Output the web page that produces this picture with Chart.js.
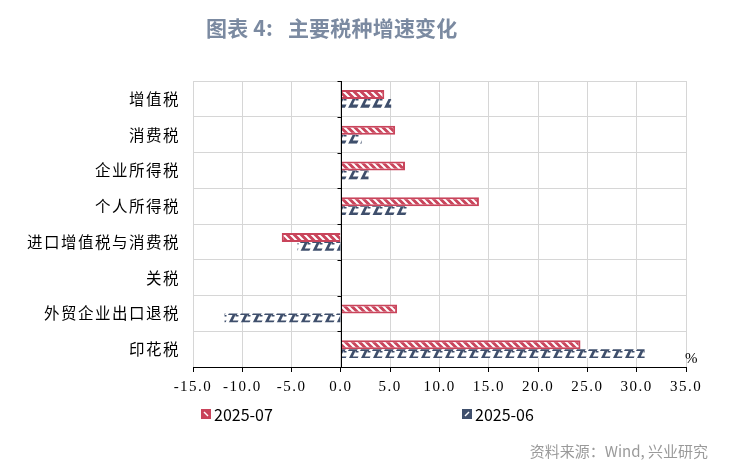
<!DOCTYPE html>
<html>
<head>
<meta charset="utf-8">
<script src="https://cdn.jsdelivr.net/npm/chart.js@4.4.1/dist/chart.umd.min.js"></script>
<style>
  body { margin: 0; background: #fff; }
  #wrap { position: relative; width: 741px; height: 469px; font-family: "Noto Sans CJK SC", "Noto Sans", sans-serif; }
  #chart { position: absolute; left: 0; top: 0; }
  .title { position: absolute; left: 206px; top: 12px; font-size: 21px; font-weight: bold; color: #7b8aa1; white-space: nowrap; letter-spacing: 0.2px; }
  .source { position: absolute; right: 33px; top: 440px; font-size: 15px; color: #9a9a9a; white-space: nowrap; }
  .pct { position: absolute; left: 685px; top: 350px; font-family: "Liberation Serif", serif; font-size: 15px; color: #000; }
  .leg { position: absolute; top: 402px; font-size: 16px; color: #000; white-space: nowrap; display: flex; align-items: center; }
  .leg canvas { margin-right: 3px; }
</style>
</head>
<body>
<div id="wrap">
  <canvas id="chart" width="741" height="469"></canvas>
  <div class="title">图表 4:&nbsp;&nbsp;&nbsp;主要税种增速变化</div>
  <div class="pct">%</div>
  <div class="leg" style="left:201px"><canvas id="sw1" width="10" height="10"></canvas>2025-07</div>
  <div class="leg" style="left:462px"><canvas id="sw2" width="10" height="10"></canvas>2025-06</div>
  <div class="source">资料来源：Wind, 兴业研究</div>
</div>
<script>
// categories and values
const categories = ['增值税', '消费税', '企业所得税', '个人所得税', '进口增值税与消费税', '关税', '外贸企业出口退税', '印花税'];
const seriesNames = ['2025-07', '2025-06'];
const jul = [4.4, 5.5, 6.5, 14.0, -6.0, null, 5.7, 24.3];
const jun = [5.1, 2.1, 2.8, 6.8, -4.4, null, -11.8, 30.8];
const xTicks = [-15, -10, -5, 0, 5, 10, 15, 20, 25, 30, 35];

const RED = '#c9445b';
const BLUE = '#3f4f6c';

// red bar: red with white "\" stripes
function redPattern() {
  const c = document.createElement('canvas');
  c.width = 7; c.height = 7;
  const g = c.getContext('2d');
  g.fillStyle = RED;
  g.fillRect(0, 0, 7, 7);
  g.strokeStyle = '#fff';
  g.lineWidth = 2;
  g.beginPath();
  g.moveTo(-2, -2); g.lineTo(9, 9);
  g.moveTo(-2, 5); g.lineTo(2, 9);
  g.moveTo(5, -2); g.lineTo(9, 2);
  g.stroke();
  return g.createPattern(c, 'repeat');
}

// blue bar: white with dark slanted "L" shapes
function bluePattern() {
  const c = document.createElement('canvas');
  c.width = 12; c.height = 9;
  const g = c.getContext('2d');
  g.fillStyle = '#fff';
  g.fillRect(0, 0, 12, 9);
  g.fillStyle = BLUE;
  g.beginPath();
  g.moveTo(0, 9); g.lineTo(4.5, 0); g.lineTo(7.5, 0); g.lineTo(4.8, 5.5);
  g.lineTo(10.5, 5.5); g.lineTo(8.8, 9);
  g.closePath();
  g.fill();
  g.fillRect(7.5, 0, 3, 1.5);
  return g.createPattern(c, 'repeat');
}

// legend boxes: solid colour with one white diagonal
function swatch(id, color, slash) {
  const g = document.getElementById(id).getContext('2d');
  g.fillStyle = color;
  g.fillRect(0, 0, 10, 10);
  g.strokeStyle = '#fff';
  g.lineWidth = 1.5;
  g.beginPath();
  if (slash) { g.moveTo(3, 7); g.lineTo(7, 3); }
  else { g.moveTo(3, 3); g.lineTo(7, 7); }
  g.stroke();
}
swatch('sw1', RED, false);
swatch('sw2', BLUE, true);

// wider letter spacing like the original bitmap fonts
const spacing = {
  id: 'spacing',
  beforeDraw(chart) { chart.ctx.letterSpacing = '1.5px'; }
};

// black zero line with small ticks on its left
const zeroTicks = {
  id: 'zeroTicks',
  afterDatasetsDraw(chart) {
    const { ctx, scales: { x, y } } = chart;
    const x0 = Math.round(x.getPixelForValue(0)) + 0.5;
    const step = (y.bottom - y.top) / categories.length;
    ctx.save();
    ctx.strokeStyle = '#000';
    ctx.lineWidth = 1;
    ctx.beginPath();
    ctx.moveTo(x0, y.top); ctx.lineTo(x0, y.bottom);
    for (let i = 0; i <= categories.length; i++) {
      const yy = Math.round(y.top + step * i) + 0.5;
      ctx.moveTo(x0 - 4, yy); ctx.lineTo(x0, yy);
    }
    ctx.stroke();
    ctx.restore();
  }
};

new Chart(document.getElementById('chart'), {
  type: 'bar',
  data: {
    labels: categories,
    datasets: [
      { label: seriesNames[0], data: jul, backgroundColor: redPattern(), borderColor: RED, borderWidth: 2 },
      { label: seriesNames[1], data: jun, backgroundColor: bluePattern(), borderColor: BLUE, borderWidth: 0 }
    ]
  },
  options: {
    indexAxis: 'y',
    responsive: false,
    animation: false,
    categoryPercentage: 0.5,
    barPercentage: 1,
    layout: { padding: { left: 0, top: 81, right: 55, bottom: 72 } },
    plugins: { legend: { display: false }, tooltip: { enabled: false } },
    scales: {
      x: {
        min: -15, max: 35,
        afterBuildTicks: s => { s.ticks = xTicks.map(v => ({ value: v })); },
        afterFit: s => { s.height = 30; },
        grid: { color: '#d6d6d6', tickColor: '#000', tickLength: 5 },
        border: { color: '#000' },
        ticks: {
          color: '#000', padding: 6,
          font: { family: 'Liberation Serif', size: 15 },
          callback: v => Number(v).toFixed(1)
        }
      },
      y: {
        afterFit: s => { s.width = 193; },
        grid: { color: '#d6d6d6', drawTicks: false },
        border: { display: false },
        ticks: {
          color: '#000', padding: 13,
          font: { family: 'Noto Sans CJK SC', size: 15.5 }
        }
      }
    }
  },
  plugins: [spacing, zeroTicks]
});
</script>
</body>
</html>
